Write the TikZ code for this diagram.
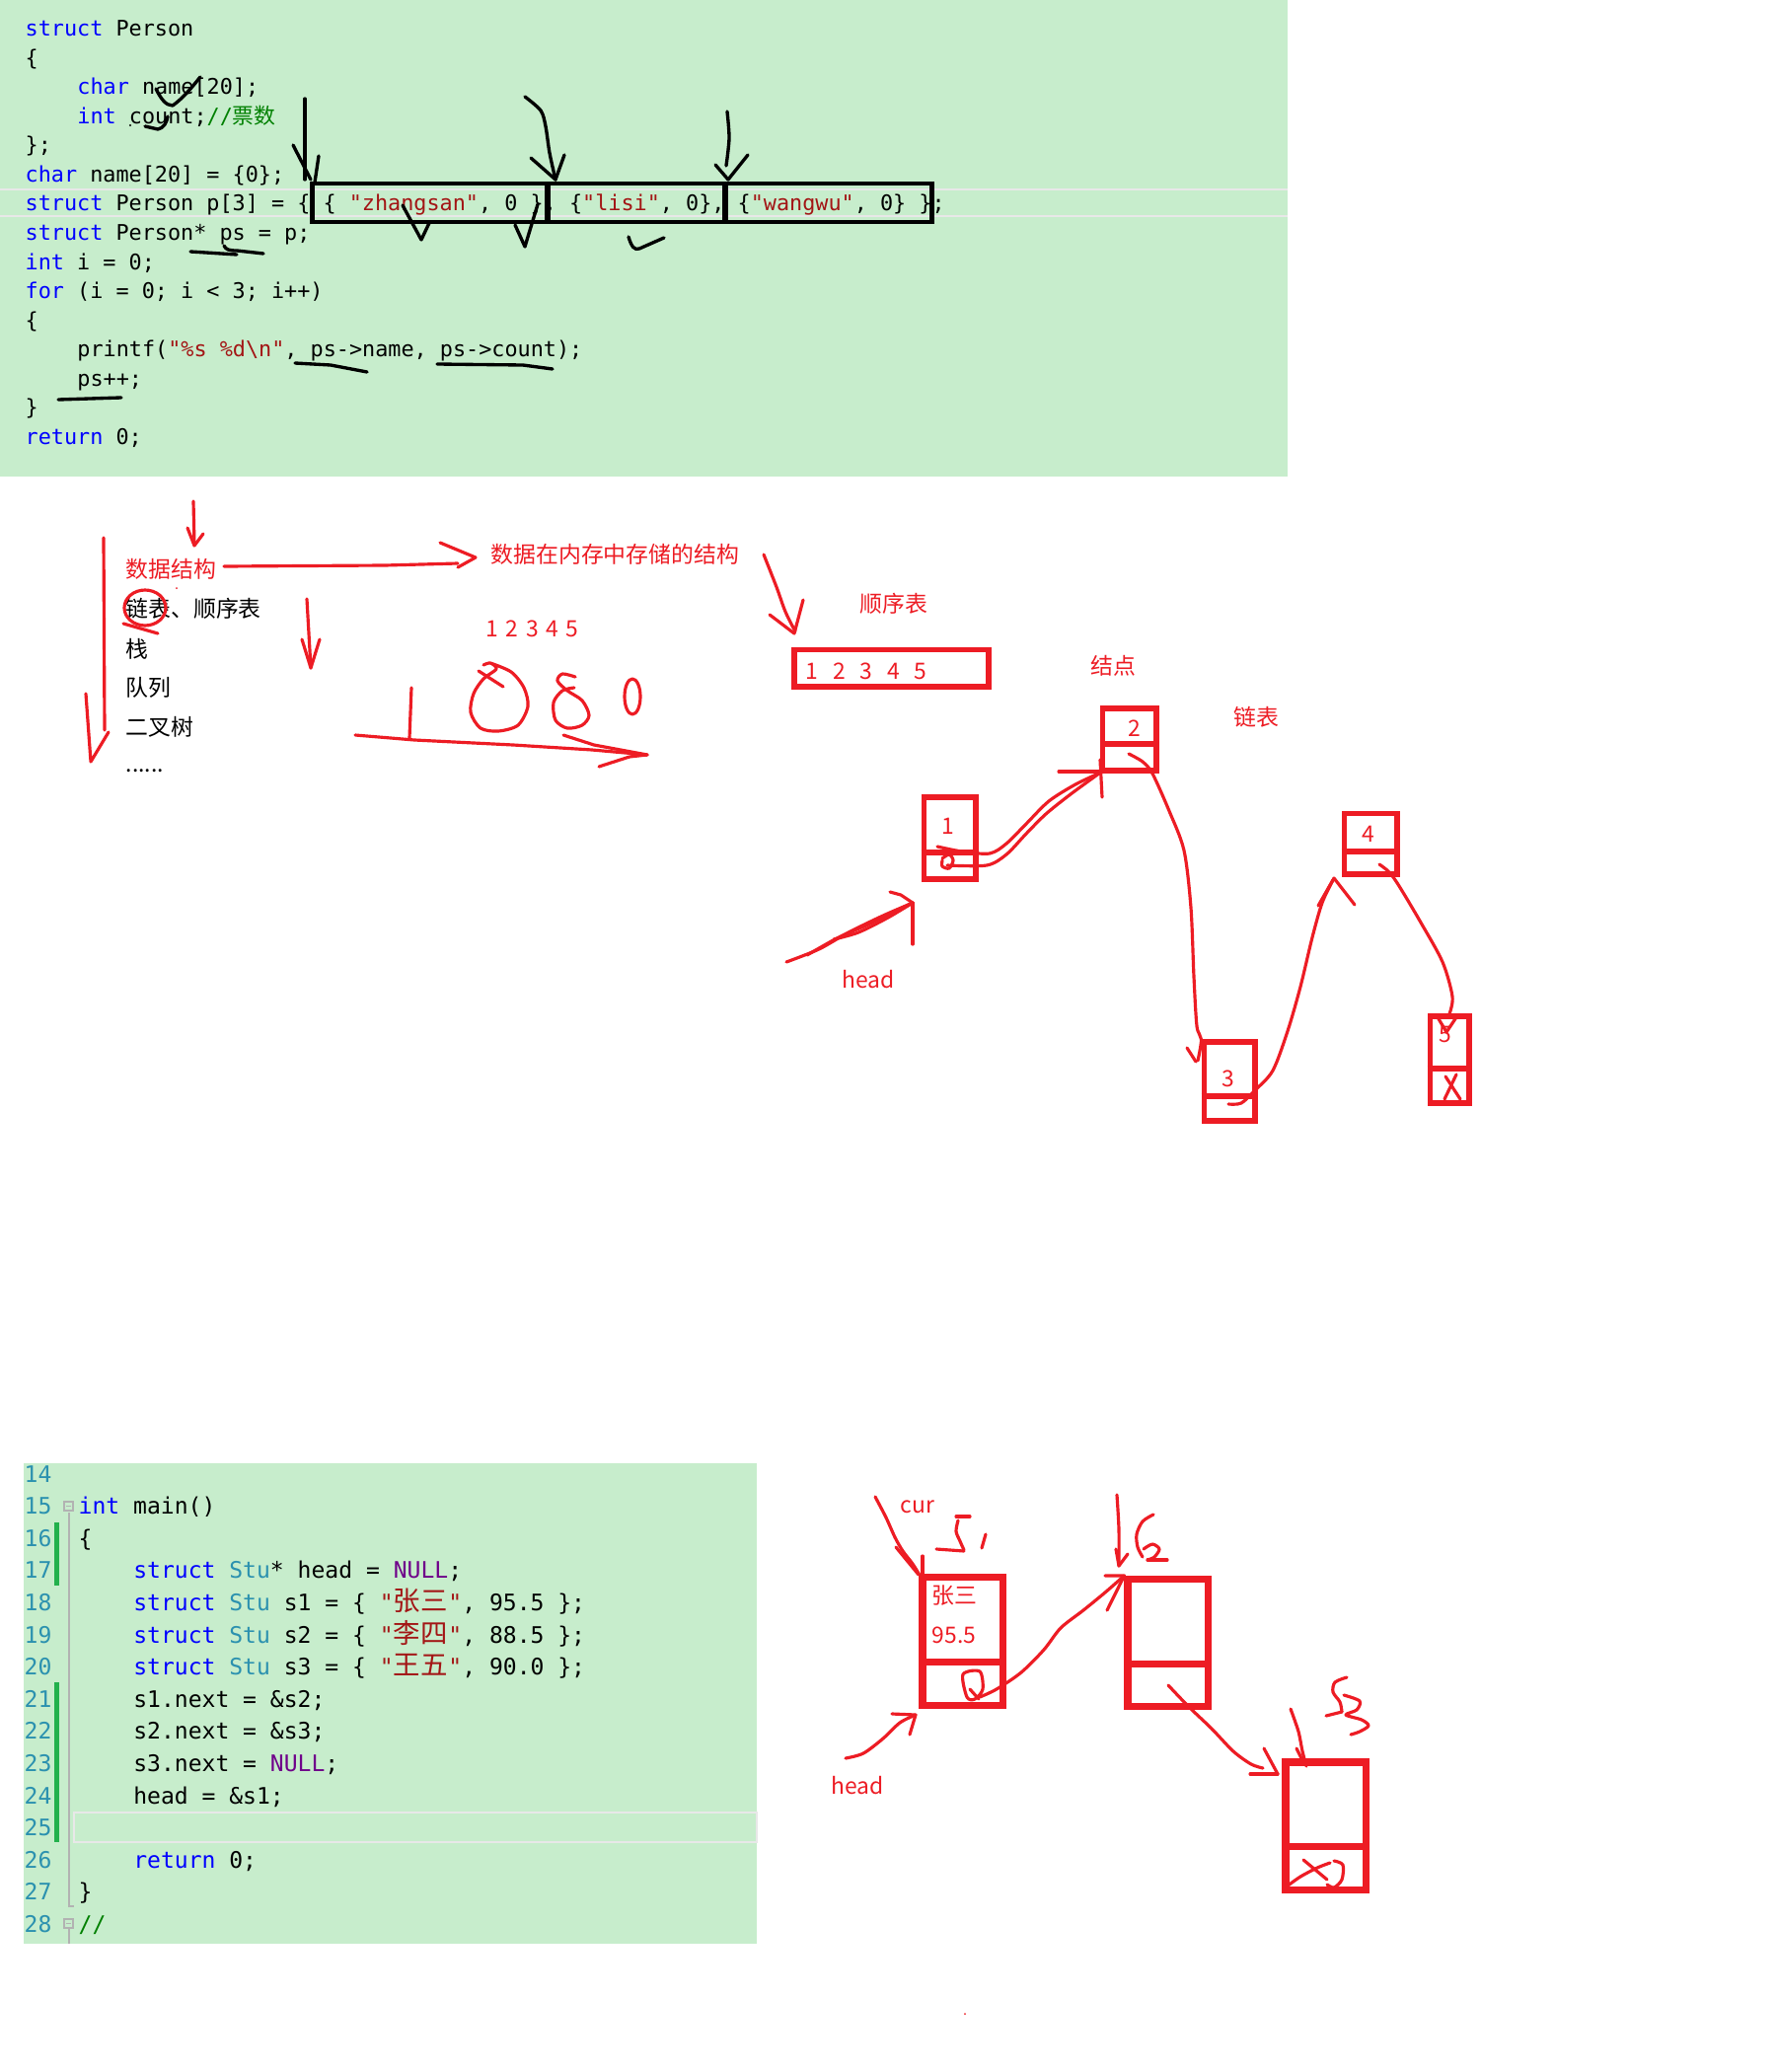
\documentclass[tikz,border=0pt]{standalone}
\usepackage{fontspec}
\setmainfont{Noto Sans CJK SC}
\setmonofont{DejaVu Sans Mono}
\newfontfamily\cjk{Noto Sans CJK SC}
\usepackage{xcolor}
\usepackage{tikz}
\usetikzlibrary{calc}
\definecolor{codebg}{RGB}{199,237,204}
\definecolor{kwblue}{RGB}{0,0,255}
\definecolor{strred}{RGB}{163,21,21}
\definecolor{cmtgreen}{RGB}{0,128,0}
\definecolor{typteal}{RGB}{43,145,175}
\definecolor{nulpurple}{RGB}{111,0,138}
\definecolor{pen}{RGB}{237,28,36}
\definecolor{changebar}{RGB}{34,177,76}
\definecolor{rowgray}{RGB}{232,232,232}
\newcommand\kw[1]{\textcolor{kwblue}{#1}}
\newcommand\strlit[1]{\textcolor{strred}{#1}}
\newcommand\cmt[1]{\textcolor{cmtgreen}{#1}}
\newcommand\typ[1]{\textcolor{typteal}{#1}}
\newcommand\nul[1]{\textcolor{nulpurple}{#1}}
\newcommand\cjkcode[1]{\makebox[0.556cm][l]{\cjk\fontsize{7.8pt}{8pt}\selectfont #1}}
\tikzset{
  codetop/.style={anchor=base west, inner sep=0pt, font=\ttfamily\fontsize{6.2pt}{7pt}\selectfont},
  codebot/.style={anchor=base west, inner sep=0pt, font=\ttfamily\fontsize{6.55pt}{8pt}\selectfont},
  lineno/.style={codebot, text=typteal},
  note/.style={inner sep=0pt, text=pen, font=\fontsize{6.5pt}{8pt}\selectfont},
  listitem/.style={anchor=west, inner sep=0pt, font=\fontsize{6.5pt}{8pt}\selectfont},
  elembox/.style={draw=black, line width=1.4pt, inner sep=0pt, minimum height=0.39cm},
  cellbox/.style={draw=pen, line width=1.7pt, inner sep=0pt},
  stubox/.style={draw=pen, line width=2pt, inner sep=0pt, minimum width=0.81cm, minimum height=1.29cm},
  divline/.style={draw=pen, line width=1.7pt},
  blackpen/.style={draw=black, line width=0.95pt, line cap=round, line join=round},
  redpen/.style={draw=pen, line width=0.9pt, line cap=round, line join=round},
  rowline/.style={draw=rowgray, line width=0.6pt},
  guide/.style={draw=gray!60, line width=0.4pt},
}
\begin{document}
\begin{tikzpicture}[x=0.01cm, y=-0.01cm]
  \useasboundingbox (0,0) rectangle (1800,2100);
  \fill[white] (0,0) rectangle (1800,2100);

  % top code panel
  \fill[codebg] (0,0) rectangle (1305,483);
  \draw[rowline] (0,192) -- (1305,192);
  \draw[rowline] (0,219) -- (1305,219);
  \node[codetop] (t0) at (25,36.5) {\kw{struct} Person};
  \node[codetop] (t1) at (25,66.1) {\{};
  \node[codetop] (t2) at (77.7,95.6) {\kw{char} name[20];};
  \node[codetop] (t3) at (77.7,125.2) {\kw{int} count;\cmt{//{\cjk 票数}}};
  \node[codetop] (t4) at (25,154.8) {\};};
  \node[codetop] (t5) at (25,184.4) {\kw{char} name[20] = \{0\};};
  \node[codetop] (t6) at (25,213.9) {\kw{struct} Person p[3] = \{ \{ \strlit{"zhangsan"}, 0 \}, \{\strlit{"lisi"}, 0\}, \{\strlit{"wangwu"}, 0\} \};};
  \node[codetop] (t7) at (25,243.5) {\kw{struct} Person* ps = p;};
  \node[codetop] (t8) at (25,273.1) {\kw{int} i = 0;};
  \node[codetop] (t9) at (25,302.6) {\kw{for} (i = 0; i < 3; i++)};
  \node[codetop] (t10) at (25,332.2) {\{};
  \node[codetop] (t11) at (77.7,361.8) {printf(\strlit{"\%s \%d\textbackslash n"}, ps->name, ps->count);};
  \node[codetop] (t12) at (77.7,391.3) {ps++;};
  \node[codetop] (t13) at (25,420.9) {\}};
  \node[codetop] (t14) at (25,450.5) {\kw{return} 0;};

  % the three array elements
  \node[elembox, minimum width=2.38cm] (elem1) at (436,205.5) {};
  \node[elembox, minimum width=1.80cm] (elem2) at (645,205.5) {};
  \node[elembox, minimum width=2.09cm] (elem3) at (839.5,205.5) {};

  % black pen marks
  \draw[blackpen] (158,90) .. controls (163,100) and (168,107) .. (175,107) .. controls (185,100) and (195,88) .. (203,78);
  \draw[blackpen] (147,128) -- (160,131) .. controls (166,130) and (169,124) .. (170,118);
  \fill (132,127) circle (1.2);
  \draw[blackpen] (309,100) -- (309,182);
  \draw[blackpen] (297,147) -- (315,182);
  \draw[blackpen] (323,158) -- (319,185);
  \draw[blackpen] plot[smooth] coordinates {(532,98) (548,112) (553,128) (557,155) (563,182)};
  \draw[blackpen] (538,160) -- (563,182) -- (572,157);
  \draw[blackpen] plot[smooth] coordinates {(737,113) (739,140) (736,168)};
  \draw[blackpen] (725,167) -- (738,182) -- (758,157);
  \draw[blackpen] (408,208) -- (427,243) -- (435,226);
  \draw[blackpen] (522,228) -- (532,250) -- (545,207);
  \draw[blackpen] (637,240) .. controls (640,250) and (643,254) .. (648,252) -- (673,241);
  \draw[blackpen] (193,255) -- (240,258);
  \draw[blackpen] (227,249) .. controls (229,253) and (232,254) .. (240,254) -- (267,257);
  \draw[blackpen] (299,368) -- (335,370) -- (372,377);
  \draw[blackpen] (443,369) -- (530,370) -- (560,374);
  \draw[blackpen] (59,405) -- (123,403);

  % data structure notes
  \node[listitem, text=pen] (ds) at (127,577) {数据结构};
  \node[listitem] (li1) at (127,617) {链表、顺序表};
  \node[listitem] (li2) at (127,658) {栈};
  \node[listitem] (li3) at (127,697) {队列};
  \node[listitem] (li4) at (127,737) {二叉树};
  \node[listitem, anchor=base west] (li5) at (127,782) {......};
  \node[note, anchor=west] (mem) at (497,562) {数据在内存中存储的结构};
  \node[note, anchor=west] (nums) at (492,637) {1\hspace{0.075cm}2\hspace{0.075cm}3\hspace{0.075cm}4\hspace{0.075cm}5};

  \draw[redpen] (196,508) -- (197,552);
  \draw[redpen] (190,535) -- (197,553) -- (206,541);
  \draw[redpen] (105,545) -- (106,740);
  \draw[redpen] (87,703) -- (92,772) -- (110,742);
  \draw[redpen] (147,616) ellipse (21 and 18);
  \draw[redpen] (125,632) -- (160,642);
  \fill[pen] (179,596) circle (1);
  \draw[redpen] (311,607) -- (315,677);
  \draw[redpen] (306,648) -- (315,677) -- (324,648);
  \draw[redpen] (227,574) -- (390,573) -- (464,571);
  \draw[redpen] (446,550) -- (482,565) -- (464,575);
  % doodled digits
  \draw[redpen] (417,697) -- (415,748);
  \draw[redpen] plot[smooth] coordinates {(497,672) (518,681) (531,697) (535,716) (525,735) (505,741) (487,738) (477,722) (480,703) (490,688) (503,678) (497,672) (490,674)};
  \draw[redpen] (485,680) -- (510,696);
  \draw[redpen] plot[smooth] coordinates {(583,686) (570,683) (565,690) (575,700) (590,710) (597,725) (590,735) (575,738) (563,730) (561,712) (570,700) (582,697)};
  \draw[redpen] (641,706) ellipse (8 and 18);
  \draw[redpen] (360,745) -- (420,750) -- (520,755) -- (600,760) -- (656,765);
  \draw[redpen] (571,745) -- (602,755) -- (656,765);
  \draw[redpen] (607,777) -- (638,767) -- (656,765);

  % sequential list
  \node[note, anchor=west] (seqlbl) at (871,612) {顺序表};
  \node[cellbox, minimum width=1.96cm, minimum height=0.37cm] (seq) at (903.5,677) {};
  \node[note, anchor=west] (seqtxt) at (816,680) {1\hspace{0.148cm}2\hspace{0.148cm}3\hspace{0.148cm}4\hspace{0.148cm}5};
  \draw[redpen] plot[smooth] coordinates {(774,562) (787,595) (796,620) (806,640)};
  \draw[redpen] (780,623) -- (805,642) -- (814,608);

  % linked list
  \node[note, anchor=west] (nodelbl) at (1105,675) {结点};
  \node[note, anchor=west] (linklbl) at (1250,727) {链表};
  \node[cellbox, minimum width=0.52cm, minimum height=0.82cm] (n1) at (962.5,849.5) {};
  \node[cellbox, minimum width=0.54cm, minimum height=0.62cm] (n2) at (1144.5,749.5) {};
  \node[cellbox, minimum width=0.51cm, minimum height=0.79cm] (n3) at (1246,1096) {};
  \node[cellbox, minimum width=0.53cm, minimum height=0.61cm] (n4) at (1389,855) {};
  \node[cellbox, minimum width=0.39cm, minimum height=0.87cm] (n5) at (1469,1074) {};
  \draw[divline] (n1.west |- 0,864) -- (n1.east |- 0,864);
  \draw[divline] (n2.west |- 0,754) -- (n2.east |- 0,754);
  \draw[divline] (n3.west |- 0,1111) -- (n3.east |- 0,1111);
  \draw[divline] (n4.west |- 0,863) -- (n4.east |- 0,863);
  \draw[divline] (n5.west |- 0,1083) -- (n5.east |- 0,1083);
  \node[note] (n1v) at (961,837) {1};
  \node[note] (n2v) at (1150,738) {2};
  \node[note] (n3v) at (1245,1093) {3};
  \node[note] (n4v) at (1387,845) {4};
  \node[note] (n5v) at (1465,1048) {5};
  \node[note] (headlbl) at (880,993) {head};
  \coordinate (headtip) at (925,915);

  \draw[redpen] plot[smooth] coordinates {(797,975) (830,962) (860,945) (895,928) (headtip)};
  \draw[redpen] plot[smooth] coordinates {(818,968) (850,950) (880,937) (headtip)};
  \draw[redpen] plot[smooth] coordinates {(845,952) (870,945) (900,930) (headtip)};
  \draw[redpen] (headtip) -- (925,957);
  \draw[redpen] (902,904) -- (913,907) -- (headtip);
  \draw[redpen] plot[smooth] coordinates {(950,858) (975,863) (1003,865) (1020,855) (1040,835) (1063,812) (1090,795) (n2.south west)};
  \draw[redpen] plot[smooth] coordinates {(960,877) (1000,877) (1020,866) (1040,845) (1060,825) (1085,805) (n2.south west)};
  \draw[redpen] plot[smooth] coordinates {(955,870) (962,866) (966,872) (962,880) (955,878) (955,872)};
  \draw[redpen] (1073,782) -- (1117,782);
  \draw[redpen] (1115,770) -- (1117,808);
  \draw[redpen] plot[smooth] coordinates {(1144,764) (1158,772) (1168,784) (1185,822) (1200,862) (1207,920) (1210,990) (1213,1040) (n3.north west) (1214,1075)};
  \draw[redpen] (1203,1062) -- (1212,1076);
  \draw[redpen] plot[smooth] coordinates {(1245,1119) (1258,1118) (1272,1105) (1290,1085) (1305,1045) (1318,1000) (1330,950) (1340,915) (1351,892)};
  \draw[redpen] (1336,918) -- (1352,890) -- (1373,917);
  \draw[redpen] plot[smooth] coordinates {(1398,876) (1408,884) (1418,898) (1440,935) (1462,975) (1472,1010) (n5.north)};
  \draw[redpen] (1457,1031) -- (1466,1046) -- (1476,1031);
  \draw[redpen] (1465,1091) -- (1480,1114);
  \draw[redpen] (1476,1089) -- (1464,1114);

  % bottom code panel
  \fill[codebg] (24,1483) rectangle (767,1970);
  \fill[changebar] (55,1543) rectangle (60,1607);
  \fill[changebar] (55,1705) rectangle (60,1867);
  \draw[guide] (70,1533) -- (70,1932) -- (75,1932);
  \draw[guide] (70,1955) -- (70,1970);
  \draw[guide, fill=codebg] (65,1522) rectangle (74,1531);
  \draw[guide] (67,1526.5) -- (72,1526.5);
  \draw[guide, fill=codebg] (65,1945) rectangle (74,1954);
  \draw[guide] (67,1949.5) -- (72,1949.5);
  \draw[draw=rowgray, line width=0.7pt] (75,1837) rectangle (767,1867);
  \node[lineno] (l14) at (24,1502) {14};
  \node[lineno] (l15) at (24,1534.6) {15};
  \node[lineno] (l16) at (24,1567.2) {16};
  \node[lineno] (l17) at (24,1599.8) {17};
  \node[lineno] (l18) at (24,1632.4) {18};
  \node[lineno] (l19) at (24,1665) {19};
  \node[lineno] (l20) at (24,1697.6) {20};
  \node[lineno] (l21) at (24,1730.2) {21};
  \node[lineno] (l22) at (24,1762.8) {22};
  \node[lineno] (l23) at (24,1795.4) {23};
  \node[lineno] (l24) at (24,1828) {24};
  \node[lineno] (l25) at (24,1860.6) {25};
  \node[lineno] (l26) at (24,1893.2) {26};
  \node[lineno] (l27) at (24,1925.8) {27};
  \node[lineno] (l28) at (24,1958.4) {28};
  \node[codebot] (b15) at (79,1534.6) {\kw{int} main()};
  \node[codebot] (b16) at (79,1567.2) {\{};
  \node[codebot] (b17) at (134.6,1599.8) {\kw{struct} \typ{Stu}* head = \nul{NULL};};
  \node[codebot] (b18) at (134.6,1632.4) {\kw{struct} \typ{Stu} s1 = \{ \strlit{"\cjkcode{张三}"}, 95.5 \};};
  \node[codebot] (b19) at (134.6,1665) {\kw{struct} \typ{Stu} s2 = \{ \strlit{"\cjkcode{李四}"}, 88.5 \};};
  \node[codebot] (b20) at (134.6,1697.6) {\kw{struct} \typ{Stu} s3 = \{ \strlit{"\cjkcode{王五}"}, 90.0 \};};
  \node[codebot] (b21) at (134.6,1730.2) {s1.next = \&s2;};
  \node[codebot] (b22) at (134.6,1762.8) {s2.next = \&s3;};
  \node[codebot] (b23) at (134.6,1795.4) {s3.next = \nul{NULL};};
  \node[codebot] (b24) at (134.6,1828) {head = \&s1;};
  \node[codebot] (b26) at (134.6,1893.2) {\kw{return} 0;};
  \node[codebot] (b27) at (79,1925.8) {\}};
  \node[codebot] (b28) at (79,1958.4) {\cmt{//}};

  % student nodes
  \node[stubox] (s1) at (975.5,1663.5) {};
  \node[stubox] (s2) at (1183.5,1665) {};
  \node[stubox] (s3) at (1343.5,1850.5) {};
  \draw[divline, line width=2pt] (s1.west |- 0,1684) -- (s1.east |- 0,1684);
  \draw[divline, line width=2pt] (s2.west |- 0,1686) -- (s2.east |- 0,1686);
  \draw[divline, line width=2pt] (s3.west |- 0,1871) -- (s3.east |- 0,1871);
  \node[note, anchor=west] (s1name) at (944,1617) {张三};
  \node[note, anchor=west] (s1score) at (944,1657) {95.5};
  \node[note] (curlbl) at (930,1527) {cur};
  \node[note] (head2lbl) at (869,1810) {head};

  \draw[redpen] plot[smooth] coordinates {(887,1517) (898,1538) (907,1558) (915,1572) (925,1585) (s1.north west)};
  \draw[redpen] (908,1568) -- (931,1596);
  \draw[redpen] (935,1577) -- (935,1598);
  \draw[redpen] plot[smooth] coordinates {(857,1782) (875,1777) (895,1762) (912,1746) (928,1738)};
  \draw[redpen] (904,1737) -- (928,1738) -- (922,1758);
  % s1 s2 s3 scribbles
  \draw[redpen] (969,1537) -- (983,1537);
  \draw[redpen] plot[smooth] coordinates {(971,1541) (969,1552) (973,1562) (977,1571)};
  \draw[redpen] (949,1570) -- (977,1572);
  \draw[redpen] (999,1555) -- (995,1569);
  \draw[redpen] plot[smooth] coordinates {(1132,1515) (1134,1550) (1134,1587)};
  \draw[redpen] (1131,1570) -- (1134,1587) -- (1143,1575);
  \draw[redpen] plot[smooth] coordinates {(1169,1535) (1158,1542) (1152,1555) (1153,1568) (1158,1578)};
  \draw[redpen] plot[smooth] coordinates {(1159,1570) (1168,1565) (1175,1570) (1170,1578) (1163,1581)};
  \draw[redpen] (1163,1581) -- (1183,1581);
  \draw[redpen] plot[smooth] coordinates {(1365,1700) (1353,1705) (1351,1715) (1358,1725) (1360,1735)};
  \draw[redpen] (1360,1735) -- (1344,1739);
  \draw[redpen] plot[smooth] coordinates {(1362,1718) (1378,1724) (1375,1733) (1364,1738) (1380,1743) (1387,1749) (1378,1755) (1369,1758)};
  \draw[redpen] plot[smooth] coordinates {(1308,1732) (1316,1755) (1320,1775) (1324,1790)};
  \draw[redpen] (1314,1772) -- (1322,1788);
  % links between students
  \draw[redpen] plot[smooth cycle] coordinates {(976,1697) (993,1694) (996,1712) (988,1722) (980,1720)};
  \draw[redpen] (983,1712) -- (992,1722);
  \draw[redpen] plot[smooth] coordinates {(993,1720) (1010,1712) (1035,1695) (1058,1672) (1075,1650) (1098,1632) (1120,1614) (s2.north west)};
  \draw[redpen] (1120,1597) -- (s2.north west) -- (1122,1632);
  \draw[redpen] plot[smooth] coordinates {(1184,1708) (1205,1730) (1228,1752) (1250,1775) (1268,1788) (1280,1792)};
  \draw[redpen] (1267,1798) -- (1295,1798);
  \draw[redpen] (1281,1772) -- (1295,1798);
  \draw[redpen] plot[smooth] coordinates {(1304,1912) (1318,1902) (1335,1893) (1348,1888)};
  \draw[redpen] (1321,1885) -- (1345,1905);
  \draw[redpen] plot[smooth] coordinates {(1352,1886) (1361,1890) (1360,1905) (1352,1913) (1345,1910)};
  \fill[pen] (978,2041) circle (1);
\end{tikzpicture}
\end{document}
